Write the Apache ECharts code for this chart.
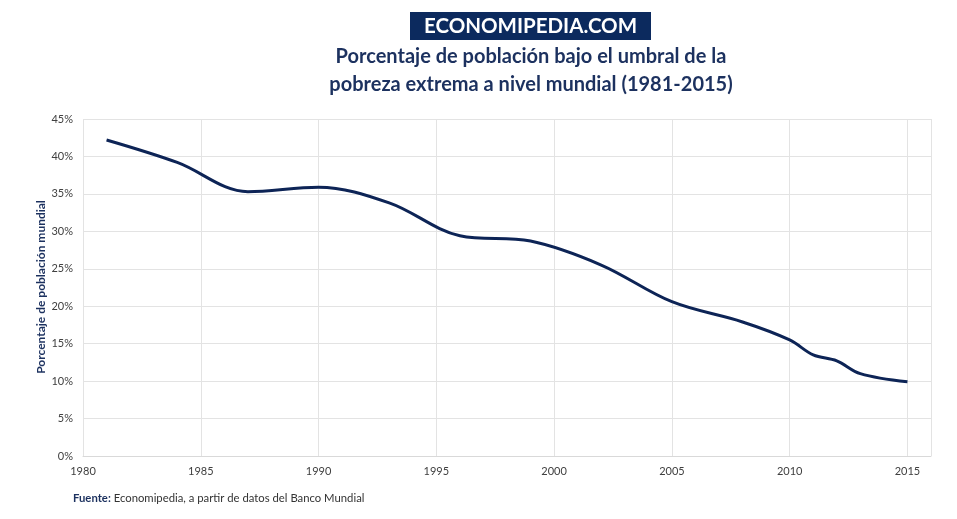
<!DOCTYPE html>
<html><head><meta charset="utf-8">
<script src="https://cdn.jsdelivr.net/npm/echarts@6/dist/echarts.min.js"></script>
<style>html,body{margin:0;padding:0;background:#fff}#c{width:957px;height:519px}</style>
</head><body><div id="c"></div>
<script>
const years = [1981, 1984, 1987, 1990, 1993, 1996, 1999, 2002, 2005, 2008, 2010, 2011, 2012, 2013, 2015];
const poverty = [42.2, 39.2, 35.3, 35.9, 33.8, 29.4, 28.7, 25.5, 20.6, 17.9, 15.5, 13.5, 12.7, 11.0, 9.9];
const xTicks = [1980, 1985, 1990, 1995, 2000, 2005, 2010, 2015];
const banner = 'ECONOMIPEDIA.COM';
const titleLines = ['Porcentaje de población bajo el umbral de la', 'pobreza extrema a nivel mundial (1981-2015)'];
const yName = 'Porcentaje de población mundial';
const source = ['Fuente:', ' Economipedia, a partir de datos del Banco Mundial'];

const FONT = 'Lato';
const chart = echarts.init(document.getElementById('c'));
chart.setOption({
  animation: false,
  textStyle: { fontFamily: FONT },
  grid: { left: 83, right: 26, top: 119, bottom: 63 },
  graphic: [
    { type: 'rect', shape: { x: 410, y: 12, width: 241, height: 28 }, style: { fill: '#0c2a5e' } },
    { type: 'text', x: 530.5, y: 26, style: { text: banner, fill: '#fff', font: 'bold 20.5px ' + FONT, align: 'center', verticalAlign: 'middle' } },
    { type: 'text', x: 531, y: 57, style: { text: titleLines[0], fill: '#1c315f', font: 'bold 20px ' + FONT, align: 'center', verticalAlign: 'middle' } },
    { type: 'text', x: 531, y: 85, style: { text: titleLines[1], fill: '#1c315f', font: 'bold 20px ' + FONT, align: 'center', verticalAlign: 'middle' } },
    { type: 'text', x: 41, y: 287, rotation: Math.PI / 2, style: { text: yName, fill: '#1c315f', font: 'bold 12px ' + FONT, align: 'center', verticalAlign: 'middle' } },
    { type: 'text', x: 73, y: 498, style: {
        text: '{b|' + source[0] + '}{n|' + source[1] + '}', verticalAlign: 'middle',
        rich: { b: { fontWeight: 'bold', fontSize: 11.3, fill: '#1c315f', fontFamily: FONT }, n: { fontSize: 11.3, fill: '#333', fontFamily: FONT } } } }
  ],
  xAxis: {
    type: 'value', min: 1980, max: 2016, interval: 5,
    axisLine: { show: true, lineStyle: { color: '#d9d9d9' } },
    axisTick: { show: false },
    splitLine: { show: true, lineStyle: { color: '#e3e3e3' } },
    axisLabel: { color: '#404040', fontSize: 11, margin: 10,
      formatter: v => xTicks.indexOf(v) >= 0 ? String(v) : '' }
  },
  yAxis: {
    type: 'value', min: 0, max: 45, interval: 5,
    axisLine: { show: false }, axisTick: { show: false },
    splitLine: { lineStyle: { color: '#e3e3e3' } },
    axisLabel: { color: '#404040', fontSize: 11, margin: 10, formatter: v => v + '%' }
  },
  series: [{
    type: 'line', smooth: 0.35, symbol: 'none',
    lineStyle: { color: '#0d2456', width: 3 },
    data: years.map((y, i) => [y, poverty[i]])
  }]
});
</script></body></html>
